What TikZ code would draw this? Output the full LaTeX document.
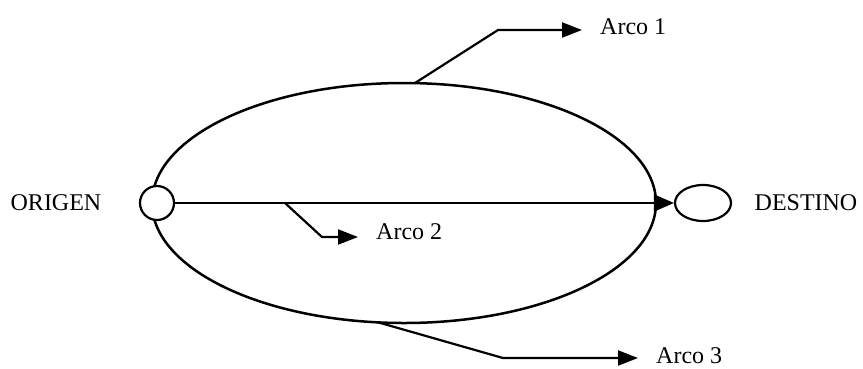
\documentclass[tikz,border=0pt]{standalone}
\usepackage{fontspec}
\setmainfont{Liberation Serif}
\usetikzlibrary{arrows.meta,shapes.geometric}

\begin{document}
\begin{tikzpicture}[
        x=1pt, y=-1pt,
        every node/.style={font=\fontsize{24}{28}\selectfont},
        punto/.style={draw, line width=2.2pt, fill=white},
        etiqueta/.style={anchor=west, inner xsep=18pt, inner ysep=0pt},
        guia/.style={line width=2.2pt, -{Triangle[length=20pt, width=15pt]}}
    ]
    \useasboundingbox (0,0) rectangle (863,368);

    % Elipse de los arcos 1 y 3
    \draw[line width=2.5pt] (404,203) ellipse [x radius=252, y radius=120];

    % Nodos origen y destino
    \node[punto, circle, minimum size=34pt, inner sep=0pt] (O) at (157,203) {};
    \node[punto, ellipse, minimum width=56pt, minimum height=36pt, inner sep=0pt] (D) at (703,203) {};
    \node (origen) at (56,203) {ORIGEN};
    \node (destino) at (806,203) {DESTINO};

    % Arco 2 (directo)
    \draw[line width=1.6pt, -{Triangle[length=20pt, width=17pt]}] (O) -- (D);

    % Puntos de partida de las guias
    \coordinate (p1) at (415,83);
    \coordinate (p2) at (285,203);
    \coordinate (p3) at (377,322);
    \coordinate (b1) at (498,30);
    \coordinate (b2) at (322,237);
    \coordinate (b3) at (503,358);

    % Etiquetas
    \node[etiqueta] (a1) at (582,26.5) {Arco 1};
    \node[etiqueta] (a2) at (358,232) {Arco 2};
    \node[etiqueta] (a3) at (638,356) {Arco 3};

    % Guias hacia las etiquetas
    \draw[guia] (p1) -- (b1) -- (b1 -| a1.west);
    \draw[guia] (p2) -- (b2) -- (b2 -| a2.west);
    \draw[guia] (p3) -- (b3) -- (b3 -| a3.west);
\end{tikzpicture}
\end{document}
